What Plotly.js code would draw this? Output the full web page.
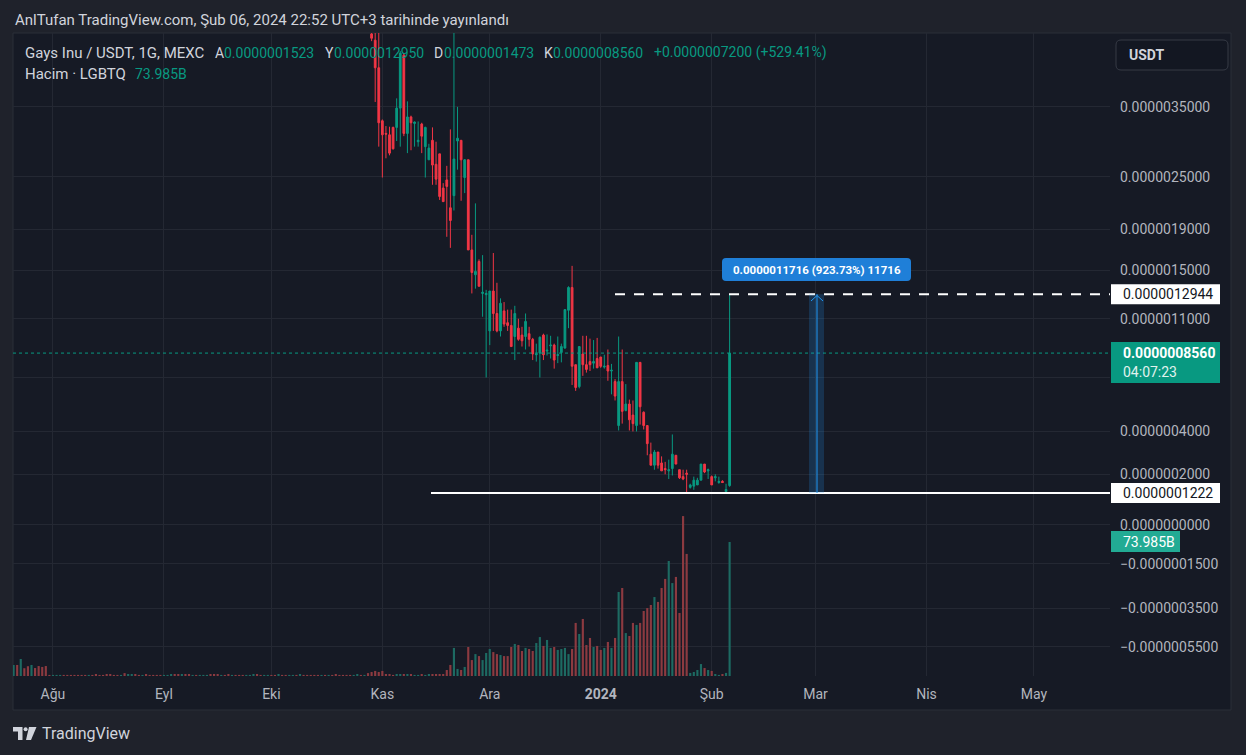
<!DOCTYPE html>
<html><head><meta charset="utf-8">
<script src="https://cdn.plot.ly/plotly-3.0.1.min.js"></script>
<style>html,body{margin:0;padding:0;background:#1f222b;}#chart{width:1246px;height:755px;}</style>
</head><body><div id="chart"></div>
<script>
// ---------------- DATA ----------------
const candleStart = '2023-10-29';
const open = [4.85e-6,4.72e-6,4.18e-6,
3.28e-6,3.09e-6,3.07e-6,3.18e-6,3.18e-6,3.48e-6,4.42e-6,3.09e-6,3.34e-6,3.24e-6,
2.97e-6,3.23e-6,2.90e-6,2.72e-6,2.99e-6,2.66e-6,2.80e-6,2.36e-6,2.46e-6,2.13e-6,
2.27e-6,2.98e-6,2.99e-6,2.49e-6,2.72e-6,1.69e-6,1.46e-6,1.58e-6,1.30e-6,1.29e-6,
1.01e-6,1.32e-6,1.14e-6,1.01e-6,1.16e-6,1.07e-6,1.05e-6,0.97e-6,1.03e-6,0.98e-6,
0.97e-6,0.99e-6,0.95e-6,0.845e-6,0.855e-6,0.98e-6,0.87e-6,0.905e-6,0.91e-6,0.84e-6,
0.86e-6,0.89e-6,1.165e-6,1.35e-6,0.78e-6,0.645e-6,0.85e-6,0.78e-6,0.80e-6,0.79e-6,0.82e-6,
0.83e-6,0.765e-6,0.775e-6,0.74e-6,0.675e-6,0.43e-6,0.675e-6,0.51e-6,0.545e-6,0.485e-6,
0.43e-6,0.795e-6,0.50e-6,0.43e-6,0.29e-6,0.24e-6,0.30e-6,0.25e-6,0.225e-6,0.215e-6,
0.225e-6,0.285e-6,0.22e-6,0.19e-6,0.205e-6,0.145e-6,0.15e-6,0.155e-6,0.175e-6,0.245e-6,0.215e-6,
0.19e-6,0.185e-6,0.165e-6,0.17e-6,0.128e-6,0.1523e-6];
const high = [5.00e-6,5.00e-6,4.95e-6,
3.30e-6,3.20e-6,3.19e-6,3.19e-6,3.64e-6,4.50e-6,4.46e-6,3.59e-6,3.36e-6,3.27e-6,
3.27e-6,3.25e-6,3.19e-6,2.94e-6,3.18e-6,2.97e-6,2.80e-6,2.42e-6,2.64e-6,3.15e-6,
5.20e-6,3.50e-6,2.99e-6,2.73e-6,2.72e-6,1.84e-6,2.18e-6,1.60e-6,1.64e-6,1.33e-6,
1.32e-6,1.66e-6,1.39e-6,1.26e-6,1.23e-6,1.17e-6,1.17e-6,1.20e-6,1.10e-6,1.04e-6,
1.14e-6,1.04e-6,0.96e-6,0.92e-6,0.97e-6,0.99e-6,0.985e-6,0.975e-6,0.92e-6,0.97e-6,
0.92e-6,1.17e-6,1.36e-6,1.54e-6,0.78e-6,0.90e-6,0.975e-6,0.975e-6,0.955e-6,0.945e-6,0.96e-6,
0.83e-6,0.845e-6,0.88e-6,0.785e-6,0.69e-6,0.97e-6,0.88e-6,0.66e-6,0.57e-6,0.565e-6,
0.795e-6,0.795e-6,0.505e-6,0.43e-6,0.345e-6,0.31e-6,0.30e-6,0.28e-6,0.255e-6,0.265e-6,
0.385e-6,0.285e-6,0.22e-6,0.22e-6,0.22e-6,0.16e-6,0.19e-6,0.185e-6,0.245e-6,0.245e-6,0.225e-6,
0.195e-6,0.20e-6,0.19e-6,0.175e-6,0.16e-6,1.295e-6];
const low = [4.70e-6,3.58e-6,2.90e-6,
2.49e-6,2.74e-6,2.78e-6,2.86e-6,2.98e-6,2.90e-6,3.05e-6,2.81e-6,2.85e-6,2.90e-6,
2.90e-6,2.81e-6,2.49e-6,2.72e-6,2.40e-6,2.40e-6,2.22e-6,2.20e-6,1.82e-6,1.71e-6,
2.10e-6,2.59e-6,2.21e-6,2.30e-6,1.69e-6,1.30e-6,1.34e-6,1.36e-6,1.115e-6,0.70e-6,
0.91e-6,1.01e-6,1.00e-6,0.97e-6,1.04e-6,1.01e-6,0.90e-6,0.81e-6,0.94e-6,0.90e-6,
0.88e-6,0.90e-6,0.81e-6,0.80e-6,0.70e-6,0.81e-6,0.84e-6,0.82e-6,0.755e-6,0.79e-6,
0.795e-6,0.885e-6,1.03e-6,0.655e-6,0.62e-6,0.635e-6,0.71e-6,0.73e-6,0.74e-6,0.755e-6,0.76e-6,
0.76e-6,0.755e-6,0.68e-6,0.60e-6,0.565e-6,0.405e-6,0.44e-6,0.505e-6,0.405e-6,0.40e-6,
0.40e-6,0.435e-6,0.41e-6,0.285e-6,0.24e-6,0.22e-6,0.225e-6,0.215e-6,0.20e-6,0.18e-6,
0.195e-6,0.245e-6,0.18e-6,0.175e-6,0.1222e-6,0.14e-6,0.135e-6,0.155e-6,0.175e-6,0.205e-6,0.18e-6,
0.155e-6,0.17e-6,0.16e-6,0.165e-6,0.126e-6,0.1473e-6];
const close = [4.76e-6,4.18e-6,3.25e-6,
3.07e-6,3.08e-6,2.81e-6,2.87e-6,3.48e-6,4.46e-6,3.09e-6,3.34e-6,3.25e-6,3.26e-6,
2.99e-6,3.05e-6,3.18e-6,2.88e-6,2.65e-6,2.47e-6,2.26e-6,2.20e-6,2.38e-6,1.99e-6,
2.73e-6,3.02e-6,2.72e-6,2.72e-6,1.69e-6,1.48e-6,1.49e-6,1.36e-6,1.31e-6,1.30e-6,
1.32e-6,1.14e-6,1.01e-6,1.22e-6,1.06e-6,1.05e-6,0.90e-6,1.14e-6,0.95e-6,0.94e-6,
1.08e-6,0.95e-6,0.85e-6,0.85e-6,0.965e-6,0.845e-6,0.875e-6,0.91e-6,0.81e-6,0.845e-6,
0.90e-6,1.17e-6,1.35e-6,0.77e-6,0.64e-6,0.90e-6,0.78e-6,0.75e-6,0.78e-6,0.80e-6,0.76e-6,
0.77e-6,0.77e-6,0.74e-6,0.745e-6,0.59e-6,0.675e-6,0.505e-6,0.545e-6,0.46e-6,0.44e-6,
0.795e-6,0.53e-6,0.43e-6,0.34e-6,0.24e-6,0.30e-6,0.24e-6,0.215e-6,0.22e-6,0.22e-6,
0.29e-6,0.245e-6,0.185e-6,0.18e-6,0.20e-6,0.155e-6,0.175e-6,0.175e-6,0.245e-6,0.21e-6,0.22e-6,
0.155e-6,0.19e-6,0.17e-6,0.165e-6,0.136e-6,0.856e-6];
const volume = [2.2e9,2.8e9,2.2e9,
2.8e9,1.1e9,1.1e9,0.6e9,1.1e9,1.1e9,1.1e9,1.1e9,1.1e9,0.6e9,
0.6e9,1.1e9,0.6e9,1.1e9,1.1e9,1.1e9,1.1e9,1.1e9,3.3e9,6.1e9,
15.5e9,3.9e9,3.3e9,5.0e9,16.0e9,8.8e9,12.1e9,11.0e9,8.8e9,12.7e9,
14.9e9,13.2e9,12.1e9,11.6e9,11.0e9,11.0e9,16.0e9,17.7e9,17.1e9,13.8e9,
15.5e9,14.9e9,13.8e9,18.2e9,21.5e9,16.6e9,19.9e9,15.5e9,16.0e9,14.4e9,
14.9e9,15.5e9,12.1e9,14.9e9,29.3e9,23.2e9,31.5e9,17.1e9,21.0e9,16.0e9,16.6e9,
14.4e9,15.5e9,18.8e9,15.5e9,21.0e9,46.4e9,48.6e9,23.7e9,22.1e9,29.3e9,
28.2e9,29.3e9,35.9e9,37.5e9,39.2e9,43.6e9,40.9e9,48.6e9,53.6e9,63.5e9,
51.3e9,54.7e9,34.8e9,88.3e9,67.4e9,1.7e9,2.2e9,3.3e9,6.6e9,4.4e9,3.3e9,
2.8e9,1.1e9,0.6e9,1.1e9,1.7e9,73.985e9];
// volume before the first visible candle (price above the pane)
const earlyStart = '2023-07-21';
const earlyVolume = [6.1e9,6.1e9,9.4e9,4.3e9,5.4e9,6.1e9,4.4e9,5.5e9,5.0e9,5.5e9,
0.6e9,
0.6e9,0.6e9,0.6e9,0.6e9,0.6e9,0.6e9,0.6e9,0.6e9,0.6e9,0.6e9,
0.6e9,0.6e9,1.1e9,0.6e9,0.6e9,1.1e9,1.1e9,0.6e9,0.6e9,0.6e9,
1.6e9,1.1e9,1.1e9,1.1e9,0.6e9,0.6e9,1.1e9,0.6e9,0.6e9,0.6e9,0.6e9,
0.6e9,0.6e9,1.1e9,1.1e9,1.1e9,1.1e9,1.1e9,1.1e9,0.6e9,0.6e9,
0.6e9,0.6e9,0.6e9,1.1e9,1.1e9,1.1e9,0.6e9,0.6e9,1.1e9,0.6e9,
0.6e9,0.6e9,0.6e9,0.6e9,0.6e9,1.1e9,1.1e9,0.6e9,0.6e9,0.6e9,
0.6e9,0.6e9,1.1e9,0.6e9,0.6e9,0.6e9,0.6e9,0.6e9,1.1e9,0.6e9,
0.6e9,0.6e9,0.6e9,0.6e9,0.6e9,0.6e9,0.6e9,0.6e9,1.1e9,0.6e9,
0.6e9,0.6e9,0.6e9,0.6e9,1.1e9,0.6e9,0.6e9,1.6e9];
const earlyUp = [1,0,1,0,0,1,0,0,0,0,
0,
1,1,1,0,0,0,0,0,0,0,
1,0,0,0,0,0,0,0,0,1,
0,1,1,0,0,1,0,0,0,0,0,
1,1,1,0,0,1,0,0,1,0,
1,1,1,0,0,0,1,0,0,1,
0,0,0,1,1,1,0,0,1,1,
0,0,1,0,0,1,1,0,1,0,
0,0,0,0,1,0,1,0,0,0,
0,0,0,1,1,0,1,0];
const lastPrice = 0.856e-6, countdown = '04:07:23', lastVolumeText = '73.985B';
const supportLevel = 0.1222e-6, targetLevel = 1.2944e-6;
const measureText = '0.0000011716 (923.73%) 11716';
const priceTicks = [3.5e-6,2.5e-6,1.9e-6,1.5e-6,1.1e-6,0.7e-6,0.4e-6,0.2e-6,0,-0.15e-6,-0.35e-6,-0.55e-6];
const priceTickText = ['0.0000035000','0.0000025000','0.0000019000','0.0000015000','0.0000011000','',
  '0.0000004000','0.0000002000','0.0000000000','\u22120.0000001500','\u22120.0000003500','\u22120.0000005500'];
const monthTicks = ['2023-08-01','2023-09-01','2023-10-01','2023-11-01','2023-12-01','2024-01-01','2024-02-01','2024-03-01','2024-04-01','2024-05-01'];
const monthLabels = ['Ağu','Eyl','Eki','Kas','Ara','<b>2024</b>','Şub','Mar','Nis','May'];

// ---------------- HELPERS ----------------
function days(start, n){const t0=Date.parse(start+'T00:00:00Z');const o=[];for(let i=0;i<n;i++)o.push(new Date(t0+i*864e5).toISOString().slice(0,10));return o;}
const tf = p => Math.sign(p)*Math.log(1+Math.abs(p)/1e-6);   // TradingView-like log scale
const L=13,T=33,R=1110,B=676;
const PX = x => (x-L)/(R-L), PY = y => (B-y)/(B-T);
const Y0=-0.5432, Y1=1.7698;
const pyP = p => (tf(p)-Y0)/(Y1-Y0);
const dyP = px => px/(B-T);
function rr(x0,y0,x1,y1,r){ // rounded rect path in pixel coords -> paper
  const P=(x,y)=>PX(x)+','+PY(y);
  return 'M'+P(x0+r,y0)+' L'+P(x1-r,y0)+' Q'+P(x1,y0)+' '+P(x1,y0+r)+' L'+P(x1,y1-r)+' Q'+P(x1,y1)+' '+P(x1-r,y1)+
    ' L'+P(x0+r,y1)+' Q'+P(x0,y1)+' '+P(x0,y1-r)+' L'+P(x0,y0+r)+' Q'+P(x0,y0)+' '+P(x0+r,y0)+' Z';
}
const UP='#089981', DN='#f23645', VUP='#1d6a62', VDN='#8c3a40';

const cDates = days(candleStart, open.length);
const eDates = days(earlyStart, earlyVolume.length);
const volX = eDates.concat(cDates);
const volY = earlyVolume.concat(volume);
const volC = earlyUp.map(u=>u?VUP:VDN).concat(close.map((c,i)=>c>=open[i]?VUP:VDN));

const traces = [
 {type:'bar', x:volX, y:volY, yaxis:'y2', marker:{color:volC, line:{width:0}}, width:0.6*864e5, hoverinfo:'skip'},
 {type:'candlestick', x:cDates, open:open.map(tf), high:high.map(tf), low:low.map(tf), close:close.map(tf),
  increasing:{line:{color:UP,width:1}, fillcolor:UP}, decreasing:{line:{color:DN,width:1}, fillcolor:DN},
  whiskerwidth:0, hoverinfo:'skip'}
];

const FONT='Roboto, "Noto Sans", sans-serif';
const txt=(x,y,text,color,size,extra)=>Object.assign({xref:'paper',yref:'paper',x:PX(x),y:PY(y),xanchor:'left',yanchor:'middle',
  text:text,showarrow:false,font:{family:FONT,size:size||14,color:color||'#d1d4dc'}},extra||{});

const annotations = [
 txt(13,20,'AnlTufan TradingView.com, Şub 06, 2024 22:52 UTC+3 tarihinde yayınlandı','#d1d4dc',15),
 txt(23,53,'Gays Inu / USDT, 1G, MEXC','#d1d4dc',15),
 txt(213,53,'A','#d1d4dc',14), txt(222,53,'0.0000001523',UP,14),
 txt(323,53,'Y','#d1d4dc',14), txt(332,53,'0.0000012950',UP,14),
 txt(432,53,'D','#d1d4dc',14), txt(442,53,'0.0000001473',UP,14),
 txt(542,53,'K','#d1d4dc',14), txt(551,53,'0.0000008560',UP,14),
 txt(652,53,'+0.0000007200 (+529.41%)',UP,14),
 txt(23,74,'Hacim · LGBTQ','#d1d4dc',15), txt(133,74,lastVolumeText,UP,14),
 txt(1127,55,'<b>USDT</b>','#d1d4dc',14),
 {xref:'paper',yref:'y',x:PX(1121),y:tf(targetLevel),xanchor:'left',yanchor:'middle',showarrow:false,text:'0.0000012944',font:{family:FONT,size:14,color:'#131722'}},
 {xref:'paper',yref:'y',x:PX(1121),y:tf(supportLevel),xanchor:'left',yanchor:'middle',showarrow:false,text:'0.0000001222',font:{family:FONT,size:14,color:'#131722'}},
 {xref:'paper',yref:'y',x:PX(1121),y:tf(lastPrice),xanchor:'left',yanchor:'middle',showarrow:false,text:'<b>0.0000008560</b>',font:{family:FONT,size:14,color:'#ffffff'}},
 {xref:'paper',yref:'y',x:PX(1121),y:tf(lastPrice),yshift:-19,xanchor:'left',yanchor:'middle',showarrow:false,text:countdown,font:{family:FONT,size:14,color:'#e0f2ee'}},
 {xref:'paper',yref:'y2',x:PX(1121),y:volume[volume.length-1],xanchor:'left',yanchor:'middle',showarrow:false,text:lastVolumeText,font:{family:FONT,size:14,color:'#ffffff'}},
 txt(816.5,270,'<b>'+measureText+'</b>','#ffffff',11.5,{xanchor:'center'}),
 txt(40,733,'TradingView','#d1d4dc',16)
];

const shapes = [
 {type:'rect',xref:'paper',yref:'paper',x0:PX(13),x1:PX(1231),y0:PY(710),y1:PY(33),fillcolor:'#161a25',line:{color:'#2a2e39',width:1},layer:'below'},
 {type:'line',xref:'paper',yref:'y',x0:0,x1:1,y0:tf(lastPrice),y1:tf(lastPrice),line:{color:UP,width:1,dash:'dot'}},
 {type:'line',xref:'paper',yref:'y',x0:PX(431),x1:1,y0:tf(supportLevel),y1:tf(supportLevel),line:{color:'#ffffff',width:2}},
 {type:'line',xref:'paper',yref:'y',x0:PX(615),x1:1,y0:tf(targetLevel),y1:tf(targetLevel),line:{color:'#ffffff',width:2,dash:'10px,9px'}},
 {type:'rect',xref:'paper',yref:'y',x0:PX(809),x1:PX(824),y0:tf(supportLevel),y1:tf(targetLevel),fillcolor:'rgba(33,150,243,0.2)',line:{width:0}},
 {type:'line',xref:'paper',yref:'y',x0:PX(817),x1:PX(817),y0:tf(supportLevel),y1:tf(targetLevel),line:{color:'#2196f3',width:1}},
 {type:'path',xref:'paper',yref:'paper',path:'M'+PX(811)+','+PY(301)+' L'+PX(817)+','+PY(295.5)+' L'+PX(823)+','+PY(301),line:{color:'#2196f3',width:1}},
 {type:'path',xref:'paper',yref:'paper',path:rr(722,258,911,281,4),fillcolor:'#1f7fd8',line:{width:0}},
 // axis labels
 {type:'rect',xref:'paper',yref:'paper',x0:PX(1111),x1:PX(1220),y0:pyP(targetLevel)-dyP(10),y1:pyP(targetLevel)+dyP(10),fillcolor:'#ffffff',line:{width:0}},
 {type:'rect',xref:'paper',yref:'paper',x0:PX(1111),x1:PX(1220),y0:pyP(supportLevel)-dyP(10),y1:pyP(supportLevel)+dyP(10),fillcolor:'#ffffff',line:{width:0}},
 {type:'rect',xref:'paper',yref:'paper',x0:PX(1111),x1:PX(1220),y0:pyP(lastPrice)-dyP(30),y1:pyP(lastPrice)+dyP(11),fillcolor:UP,line:{width:0}},
 {type:'rect',xref:'paper',yref:'paper',x0:PX(1111),x1:PX(1180),y0:PY(552),y1:PY(531),fillcolor:'#22ab94',line:{width:0}},
 {type:'path',xref:'paper',yref:'paper',path:rr(1116,40,1228,70,5),fillcolor:'#131722',line:{color:'#363a45',width:1}},
 // TradingView logo
 {type:'path',xref:'paper',yref:'paper',path:'M'+PX(13)+','+PY(727)+' L'+PX(22.5)+','+PY(727)+' L'+PX(22.5)+','+PY(740)+' L'+PX(18)+','+PY(740)+' L'+PX(18)+','+PY(731.5)+' L'+PX(13)+','+PY(731.5)+' Z',fillcolor:'#d1d4dc',line:{width:0}},
 {type:'circle',xref:'paper',yref:'paper',x0:PX(23.6),x1:PX(27.6),y0:PY(731.3),y1:PY(727.3),fillcolor:'#d1d4dc',line:{width:0}},
 {type:'path',xref:'paper',yref:'paper',path:'M'+PX(29)+','+PY(727)+' L'+PX(36.5)+','+PY(727)+' L'+PX(31)+','+PY(740)+' L'+PX(26)+','+PY(740)+' Z',fillcolor:'#d1d4dc',line:{width:0}}
];

const layout = {
 width:1246, height:755, margin:{l:L, r:1246-R, t:T, b:755-B},
 paper_bgcolor:'#1f222b', plot_bgcolor:'#161a25', showlegend:false,
 font:{family:FONT, color:'#b2b5be', size:14},
 xaxis:{type:'date', range:['2023-07-20 20:00','2024-05-22 06:00'], tickvals:monthTicks, ticktext:monthLabels,
   showgrid:true, gridcolor:'#242833', zeroline:false, showline:false, ticks:'', ticklabelstandoff:8,
   tickfont:{family:FONT,size:14,color:'#b2b5be'}, rangeslider:{visible:false}, fixedrange:true},
 yaxis:{range:[Y0,Y1], side:'right', tickvals:priceTicks.map(tf), ticktext:priceTickText, showgrid:true, gridcolor:'#242833',
   zeroline:false, showline:false, ticks:'', ticklabelstandoff:9, tickfont:{family:FONT,size:14,color:'#b2b5be'}, fixedrange:true},
 yaxis2:{overlaying:'y', range:[0,355e9], visible:false, fixedrange:true},
 shapes:shapes, annotations:annotations, hovermode:false
};
Plotly.newPlot('chart', traces, layout, {displayModeBar:false, staticPlot:true});
</script></body></html>
